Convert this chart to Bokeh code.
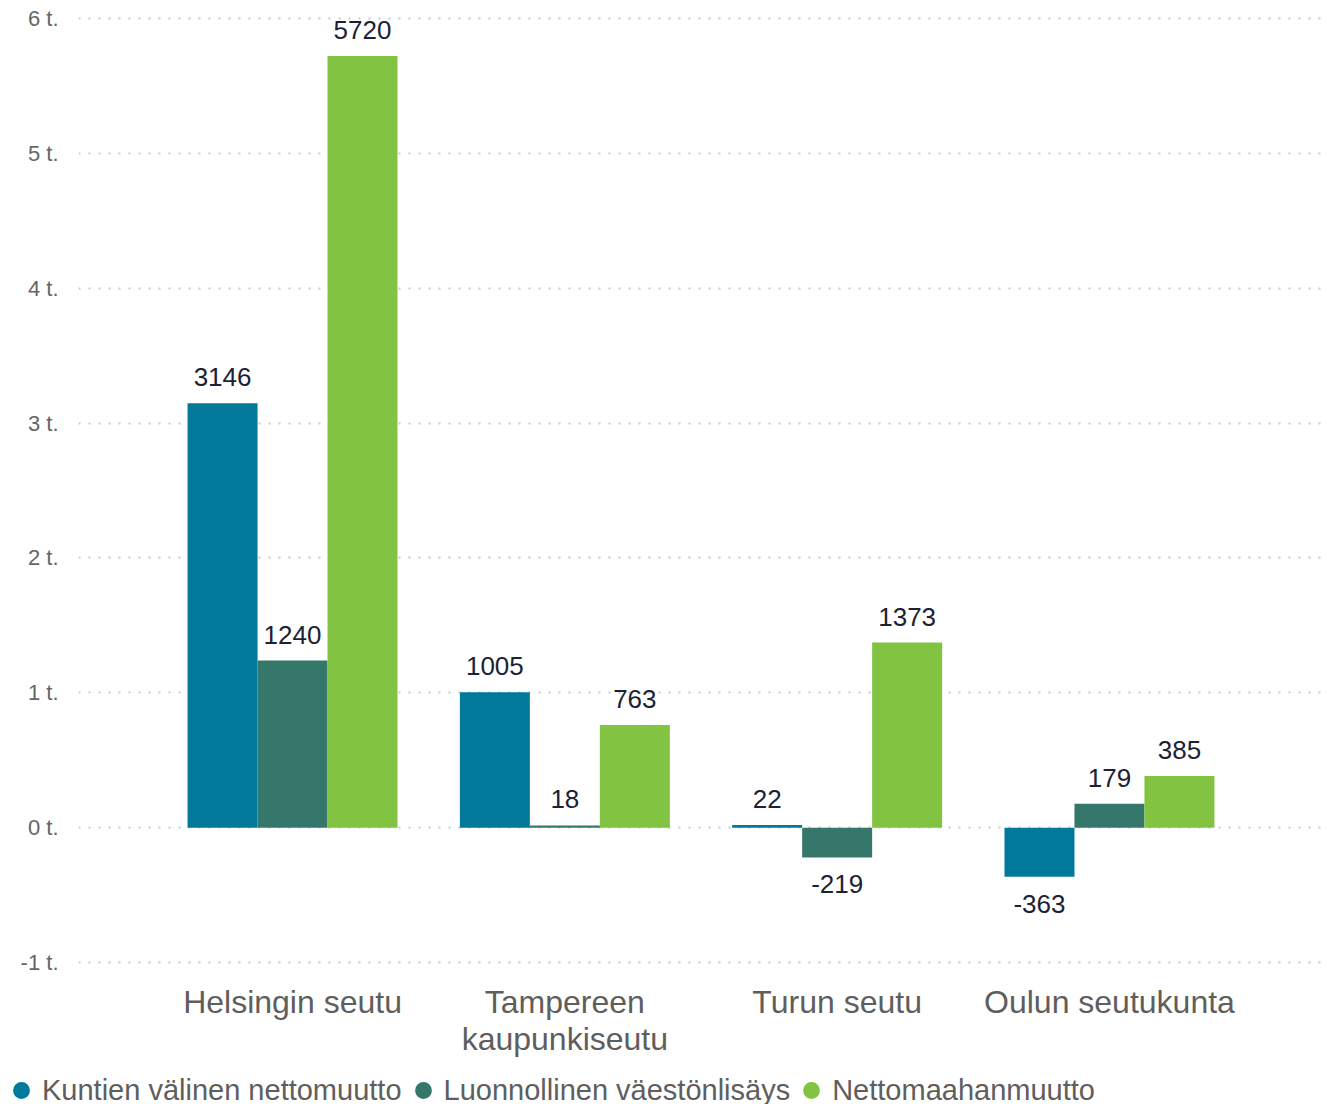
from bokeh.plotting import figure
from bokeh.models import ColumnDataSource, FactorRange, FixedTicker, Legend, LegendItem, Range1d
from bokeh.transform import dodge
from bokeh.core.properties import value
from bokeh.embed import file_html
from bokeh.resources import INLINE

categories = ["Helsingin seutu", "Tampereen\nkaupunkiseutu", "Turun seutu", "Oulun seutukunta"]
series_names = ["Kuntien välinen nettomuutto", "Luonnollinen väestönlisäys", "Nettomaahanmuutto"]
kuntien = [3146, 1005, 22, -363]
luonnollinen = [1240, 18, -219, 179]
netto = [5720, 763, 1373, 385]
y_ticks = [-1000, 0, 1000, 2000, 3000, 4000, 5000, 6000]
y_tick_labels = ["-1 t.", "0 t.", "1 t.", "2 t.", "3 t.", "4 t.", "5 t.", "6 t."]

colors = ["#01799b", "#36776b", "#82c341"]
FONT = "Liberation Sans"
LABEL_COLOR = "#1b2235"
GREY = "#605e5c"

p = figure(
    x_range=FactorRange(*categories, range_padding=0.286, range_padding_units="absolute"),
    y_range=Range1d(-1020, 6020),
    width=1327, height=1060,
    output_backend="svg", toolbar_location=None,
    min_border_left=78, min_border_right=4, min_border_top=15, min_border_bottom=95,
)
p.outline_line_color = None
p.background_fill_color = "white"
p.border_fill_color = "white"

# legend figure (separate root, placed below the chart)
lg = figure(
    x_range=Range1d(0, 1), y_range=Range1d(0, 1),
    width=1327, height=44, output_backend="svg", toolbar_location=None,
    x_axis_location=None, y_axis_location=None,
    min_border_left=0, min_border_right=0, min_border_top=0, min_border_bottom=0,
)
lg.outline_line_color = None
lg.grid.visible = False

bar_w = 0.257
offsets = [-bar_w, 0.0, bar_w]
legend_items = []
for name, vals, col, off in zip(series_names, [kuntien, luonnollinen, netto], colors, offsets):
    src = ColumnDataSource(dict(
        cat=categories,
        val=vals,
        label=[str(v) for v in vals],
        yoff=[-26 if v >= 0 else 27 for v in vals],
    ))
    xd = dodge("cat", off, range=p.x_range)
    p.vbar(x=xd, top="val", bottom=0, width=bar_w, source=src,
           fill_color=col, line_color=None)
    p.text(x=xd, y="val", text="label", y_offset="yoff", source=src,
           text_align="center", text_baseline="middle",
           text_font=value(FONT), text_font_size="26px", text_color=LABEL_COLOR)
    # legend proxy: a single undrawn (NaN) point, only its legend glyph shows
    dummy = lg.scatter(x=[float("nan")], y=[float("nan")], marker="circle", size=20,
                       fill_color=col, line_color=None)
    legend_items.append(LegendItem(label=name, renderers=[dummy], index=0))

# axes
p.xgrid.grid_line_color = None
p.ygrid.ticker = FixedTicker(ticks=y_ticks)
p.ygrid.grid_line_color = "#c8c8c8"
p.ygrid.grid_line_dash = "2 8"
p.ygrid.grid_line_width = 2

p.yaxis.ticker = FixedTicker(ticks=y_ticks)
p.yaxis.major_label_overrides = {t: l for t, l in zip(y_ticks, y_tick_labels)}
p.yaxis.axis_line_color = None
p.yaxis.major_tick_line_color = None
p.yaxis.minor_tick_line_color = None
p.yaxis.major_label_standoff = 14
p.yaxis.major_label_text_font = FONT
p.yaxis.major_label_text_font_size = "22px"
p.yaxis.major_label_text_color = "#666666"

p.xaxis.axis_line_color = None
p.xaxis.major_tick_line_color = None
p.xaxis.minor_tick_line_color = None
p.xaxis.major_label_standoff = 12
p.xaxis.major_label_text_font = FONT
p.xaxis.major_label_text_font_size = "32px"
p.xaxis.major_label_text_line_height = 1.03
p.xaxis.major_label_text_color = GREY

legend = Legend(
    items=legend_items, orientation="horizontal", location=(0, -7),
    glyph_width=42, glyph_height=42, label_standoff=0, spacing=0,
    padding=0, margin=0, border_line_color=None, background_fill_alpha=0,
    label_text_font=FONT, label_text_font_size="29px", label_text_color=GREY,
)
lg.add_layout(legend, "center")

open("out.html", "w").write(file_html([p, lg], INLINE))
